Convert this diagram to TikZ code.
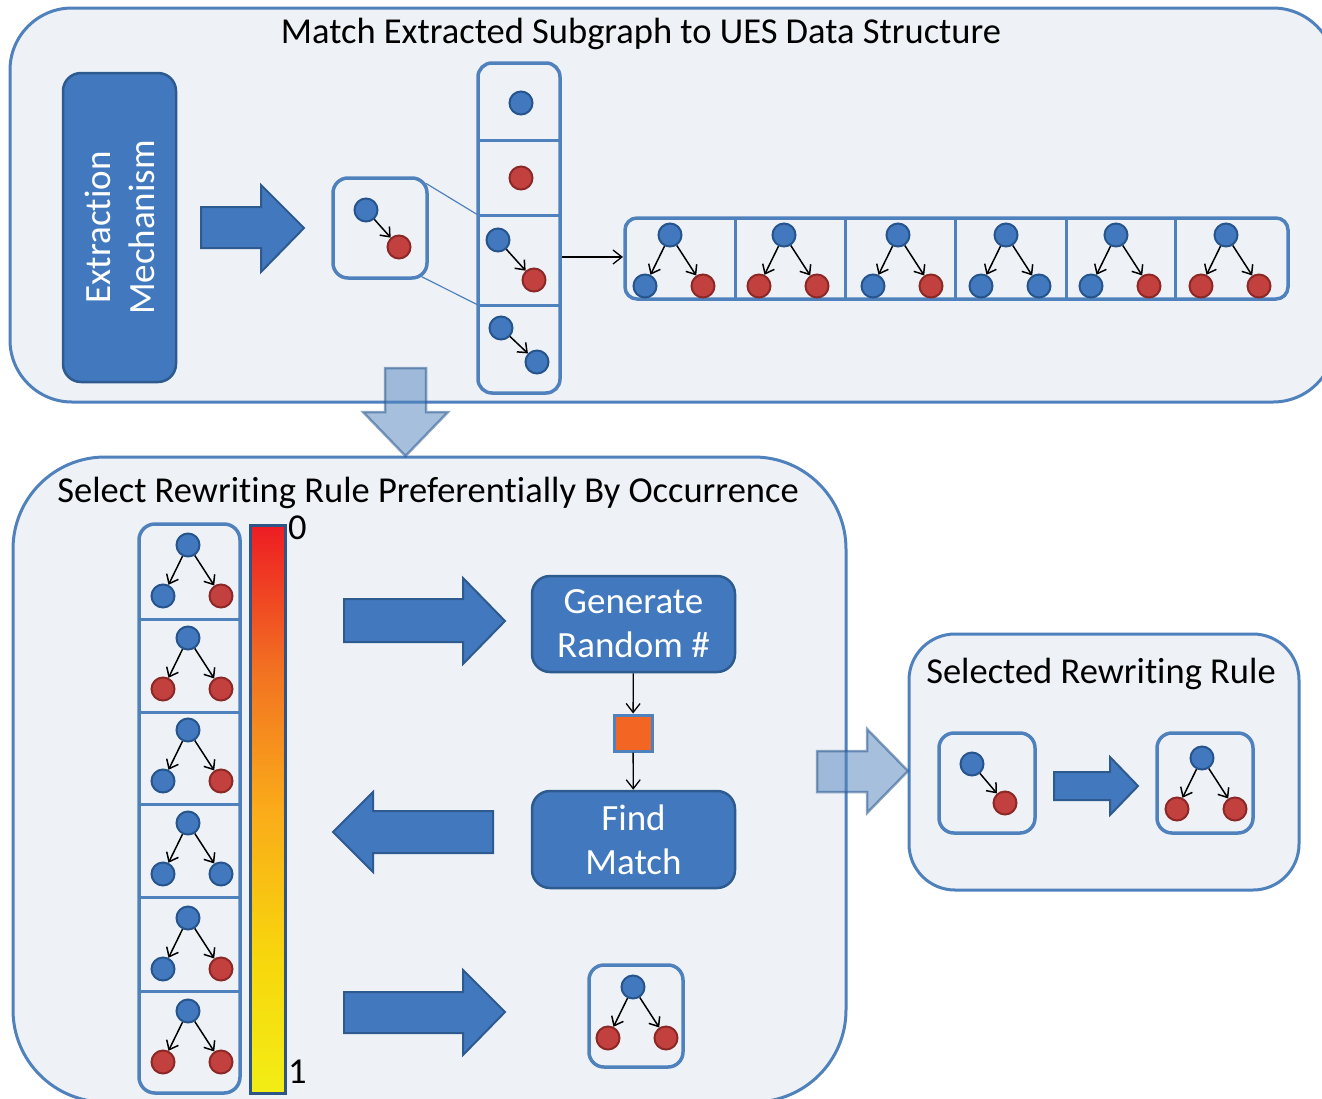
\documentclass[tikz,border=0pt]{standalone}
\usepackage{fontspec}
\setmainfont{Carlito}[Ligatures=NoCommon]
\usetikzlibrary{arrows.meta,calc}
\definecolor{panelfill}{RGB}{238,242,247}
\definecolor{panelline}{RGB}{79,129,189}
\definecolor{boxfill}{RGB}{66,121,190}
\definecolor{boxline}{RGB}{45,90,143}
\definecolor{nblue}{RGB}{66,121,190}
\definecolor{nblueline}{RGB}{38,84,140}
\definecolor{nred}{RGB}{194,64,62}
\definecolor{nredline}{RGB}{140,40,38}
\definecolor{sqorange}{RGB}{242,101,34}
\definecolor{barline}{RGB}{47,84,134}
\pgfdeclareverticalshading{heatbar}{100bp}{rgb(0bp)=(0.95,0.93,0.08); rgb(25bp)=(0.95,0.93,0.08); rgb(37bp)=(0.97,0.84,0.05); rgb(50bp)=(0.98,0.67,0.10); rgb(62bp)=(0.95,0.45,0.13); rgb(75bp)=(0.93,0.11,0.14); rgb(100bp)=(0.93,0.11,0.14)}
\tikzset{
  panel/.style={draw=panelline, line width=3pt, fill=panelfill},
  cellbox/.style={draw=panelline, line width=3.5pt, rounded corners=14pt},
  cellline/.style={draw=panelline, line width=3pt},
  zoomline/.style={draw=panelline, line width=1.2pt},
  gb/.style={circle, draw=nblueline, fill=nblue, line width=2pt, minimum size=23pt, inner sep=0pt},
  gr/.style={circle, draw=nredline, fill=nred, line width=2pt, minimum size=23pt, inner sep=0pt},
  gedge/.style={-{Straight Barb[length=8pt,width=13pt]}, line width=1.5pt, black},
  thinarrow/.style={-{Straight Barb[length=9pt,width=14pt]}, line width=1.3pt, black},
  blockarrow/.style={fill=boxfill, draw=boxline, line width=2pt, line join=miter},
  lightarrow/.style={fill=panelline, fill opacity=0.5, draw=boxline, draw opacity=0.55, line width=2.5pt},
  darkbox/.style={draw=boxline, fill=boxfill, line width=2.5pt, rounded corners=18pt, text=white, align=center, inner sep=0pt, font=\fontsize{37}{44}\selectfont},
  ttl/.style={inner sep=0pt, font=\fontsize{36.5}{40}\selectfont},
}
\newcommand{\gtree}[5]{%
  \node[gb] (#1t) at (#2,#3) {};
  \node[#4] (#1l) at (#2-25,#3+51) {};
  \node[#5] (#1r) at (#2+33,#3+51) {};
  \draw[gedge] (#1t) -- (#1l);
  \draw[gedge] (#1t) -- (#1r);
}
\newcommand{\gpair}[7]{%
  \node[#4] (#1a) at (#2,#3) {};
  \node[#7] (#1b) at (#5,#6) {};
  \draw[gedge] (#1a) -- (#1b);
}
\begin{document}
\begin{tikzpicture}[x=1pt,y=-1pt]
\useasboundingbox (0,0) rectangle (1322,1098);
\clip (0,0) rectangle (1322,1098);
\fill[white] (0,0) rectangle (1322,1098);

% ---------- top panel ----------
\draw[panel, rounded corners=62pt] (10,8) rectangle (1335,402);
\node[ttl] (ttop) at (641,34) {Match Extracted Subgraph to UES Data Structure};

\node[darkbox, rotate=90, minimum width=309pt, minimum height=113pt] (ext) at (119.5,227.5) {Extraction\\Mechanism};

\draw[blockarrow] (201,207) -- (261,207) -- (261,185) -- (304,228) -- (261,272) -- (261,248) -- (201,248) -- cycle;

% small extracted subgraph box
\node[draw=panelline, line width=3.5pt, rounded corners=15pt, minimum width=94pt, minimum height=100pt] (sb) at (380,228) {};
\gpair{xs}{366}{210}{gb}{399}{247}{gr}

% column of elementary patterns
\draw[cellbox] (478,63) rectangle (560,393);
\draw[cellline] (478,140) -- (560,140);
\draw[cellline] (478,215) -- (560,215);
\draw[cellline] (478,305) -- (560,305);
\coordinate (c3tl) at (478,215);
\coordinate (c3bl) at (478,305);
\coordinate (c3r) at (562,257);
\node[gb] (c1n) at (521,103) {};
\node[gr] (c2n) at (521,178) {};
\gpair{cc}{498}{240}{gb}{534}{280}{gr}
\gpair{cd}{501}{328}{gb}{537}{362}{gb}
\draw[zoomline] ($(sb.north east)+(-3,7)$) -- (c3tl);
\draw[zoomline] ($(sb.south east)+(-7,-3)$) -- (c3bl);

% row of trees
\draw[cellbox, rounded corners=12pt] (625,218) rectangle (1288,299);
\foreach \xx in {735,845,955,1066,1175} \draw[cellline] (\xx,218) -- (\xx,299);
\coordinate (rowl) at (623,257);
\draw[thinarrow] (c3r) -- (rowl);
\gtree{ra}{670}{235}{gb}{gr}
\gtree{rb}{784}{235}{gr}{gr}
\gtree{rc}{898}{235}{gb}{gr}
\gtree{rd}{1006}{235}{gb}{gb}
\gtree{re}{1116}{235}{gb}{gr}
\gtree{rf}{1226}{235}{gr}{gr}

% ---------- bottom panel ----------
\draw[panel, rounded corners=92pt] (13,457) rectangle (846,1102);
\node[ttl] (tsel) at (428,493) {Select Rewriting Rule Preferentially By Occurrence};

\draw[cellbox, rounded corners=16pt] (139,524) rectangle (240,1093);
\foreach \yy in {619,712,804,897,991} \draw[cellline] (139,\yy) -- (240,\yy);
\gtree{la}{188}{545}{gb}{gr}
\gtree{lb}{188}{638}{gr}{gr}
\gtree{lc}{188}{730}{gb}{gr}
\gtree{ld}{188}{823}{gb}{gb}
\gtree{le}{188}{918}{gb}{gr}
\gtree{lf}{188}{1011}{gr}{gr}

% gradient bar
\shade[shading=heatbar] (250,525) rectangle (285,1093);
\draw[barline, line width=3pt] (250,525) rectangle (285,1093);
\node[ttl, anchor=west] (zero) at (288,528) {0};
\node[ttl, anchor=west] (one) at (288,1072) {1};

% block arrows
\draw[blockarrow] (344,599) -- (463,599) -- (463,578) -- (505,621) -- (463,664) -- (463,642) -- (344,642) -- cycle;
\draw[blockarrow] (493,811) -- (373,811) -- (373,792) -- (333,832) -- (373,872) -- (373,853) -- (493,853) -- cycle;
\draw[blockarrow] (344,992) -- (463,992) -- (463,970) -- (505,1012) -- (463,1055) -- (463,1033) -- (344,1033) -- cycle;

\node[darkbox, minimum width=203pt, minimum height=96pt] (gen) at (633.5,624) {Generate\\Random \#};
\node[draw=panelline, fill=sqorange, line width=3pt, minimum width=38pt, minimum height=36pt, inner sep=0pt] (sq) at (633,733) {};
\node[darkbox, minimum width=203pt, minimum height=97pt] (find) at (633.5,839.5) {Find\\Match};
\draw[thinarrow] (gen) -- (sq);
\draw[thinarrow] (sq) -- (find);

\node[draw=panelline, line width=3.5pt, rounded corners=15pt, minimum width=94pt, minimum height=102pt] (res) at (636,1016) {};
\gtree{rs}{633}{987}{gr}{gr}

% ---------- right panel ----------
\draw[panel, rounded corners=46pt] (909,634) rectangle (1299,890);
\node[ttl] (trule) at (1101,674) {Selected Rewriting Rule};
\node[draw=panelline, line width=3.5pt, rounded corners=15pt, minimum width=96pt, minimum height=100pt] (lhs) at (987,783) {};
\gpair{lh}{972}{764}{gb}{1005}{803}{gr}
\draw[blockarrow] (1054,772) -- (1110,772) -- (1110,757) -- (1138,786) -- (1110,815) -- (1110,800) -- (1054,800) -- cycle;
\node[draw=panelline, line width=3.5pt, rounded corners=15pt, minimum width=96pt, minimum height=100pt] (rhs) at (1205,783) {};
\gtree{rh}{1202}{758}{gr}{gr}

% ---------- light transfer arrows ----------
\draw[lightarrow] (385,368) -- (426,368) -- (426,412) -- (448,412) -- (405.5,456) -- (363,412) -- (385,412) -- cycle;
\draw[lightarrow] (817,751) -- (867,751) -- (867,729) -- (908,771) -- (867,813) -- (867,792) -- (817,792) -- cycle;
\end{tikzpicture}
\end{document}
